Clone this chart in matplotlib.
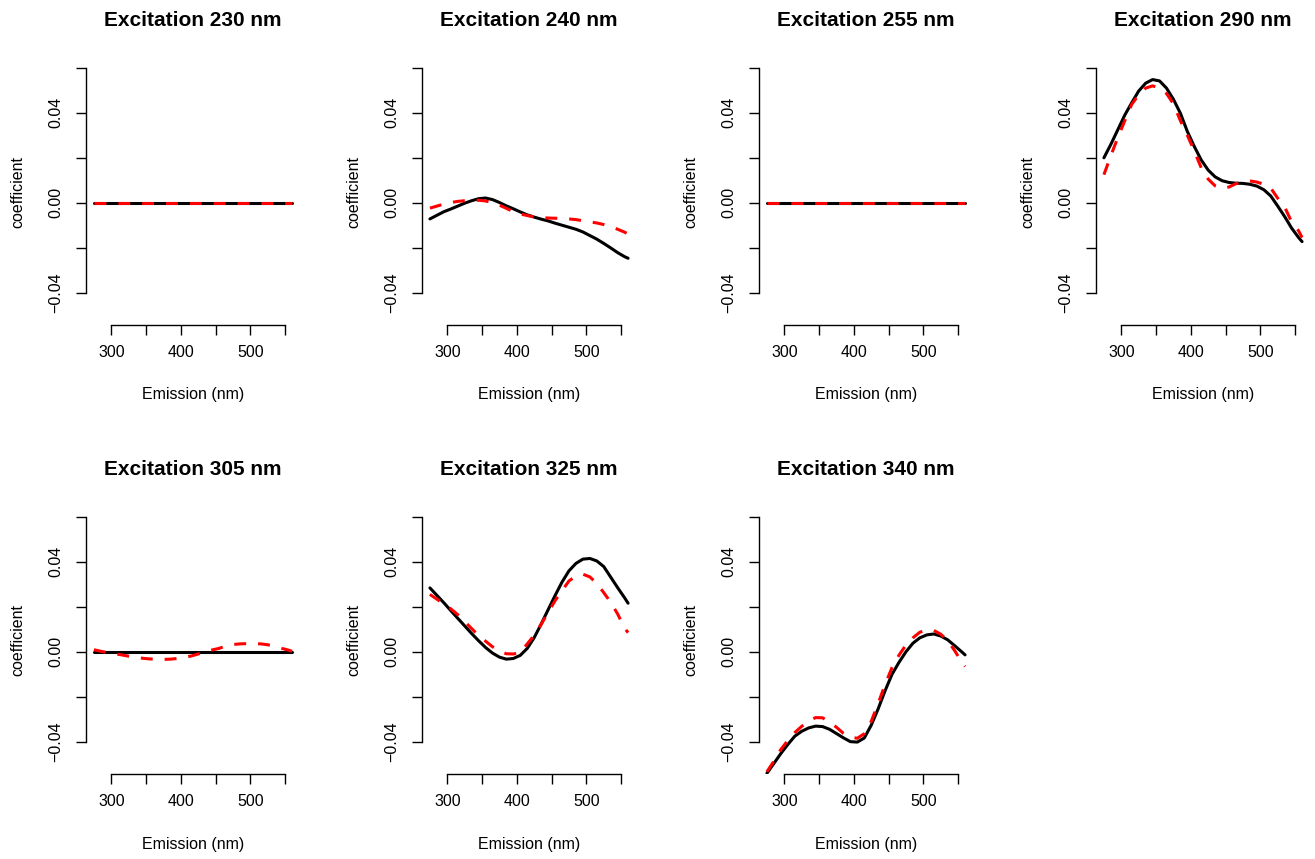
import matplotlib
matplotlib.use("Agg")
import matplotlib.pyplot as plt

plt.rcParams['font.family'] = ['Liberation Sans', 'DejaVu Sans']

emission = [275, 285, 295, 305, 315, 325, 335, 345, 355, 365,
            375, 385, 395, 405, 415, 425, 435, 445, 455, 465,
            475, 485, 495, 505, 515, 525, 535, 545, 555, 560]

excitations = [230, 240, 255, 290, 305, 325, 340]

# solid black series
black_230 = [0.0] * 30
black_240 = [-0.0072, -0.0056, -0.0040, -0.0028, -0.0015, -0.0002, 0.0009, 0.0018, 0.0021, 0.0014,
             0.0001, -0.0014, -0.0027, -0.0041, -0.0054, -0.0064, -0.0073, -0.0081, -0.0091, -0.0100,
             -0.0109, -0.0118, -0.0130, -0.0146, -0.0162, -0.0181, -0.0201, -0.0222, -0.0240, -0.0247]
black_255 = [0.0] * 30
black_290 = [0.0200, 0.0260, 0.0325, 0.0390, 0.0445, 0.0497, 0.0532, 0.0548, 0.0542, 0.0510,
             0.0460, 0.0398, 0.0317, 0.0250, 0.0190, 0.0145, 0.0115, 0.0098, 0.0090, 0.0087,
             0.0086, 0.0082, 0.0074, 0.0058, 0.0030, -0.0015, -0.0062, -0.0113, -0.0155, -0.0173]
black_305 = [0.0] * 30
black_325 = [0.0284, 0.0251, 0.0218, 0.0183, 0.0149, 0.0115, 0.0081, 0.0049, 0.0019, -0.0006,
             -0.0024, -0.0033, -0.0030, -0.0016, 0.0015, 0.0063, 0.0123, 0.0187, 0.0250, 0.0310,
             0.0360, 0.0393, 0.0412, 0.0415, 0.0404, 0.0379, 0.0332, 0.0285, 0.0240, 0.0216]
black_340 = [-0.0541, -0.0497, -0.0453, -0.0413, -0.0376, -0.0354, -0.0339, -0.0331, -0.0333, -0.0345,
             -0.0364, -0.0383, -0.0400, -0.0402, -0.0384, -0.0327, -0.0254, -0.0173, -0.0100, -0.0047,
             0.0000, 0.0038, 0.0062, 0.0075, 0.0079, 0.0070, 0.0053, 0.0027, 0.0000, -0.0014]

# dashed red series
red_230 = [0.0] * 30
red_240 = [-0.0024, -0.0015, -0.0006, 0.0001, 0.0006, 0.0009, 0.0011, 0.0011, 0.0008, 0.0000,
           -0.0011, -0.0025, -0.0040, -0.0050, -0.0057, -0.0063, -0.0066, -0.0068, -0.0069, -0.0070,
           -0.0072, -0.0075, -0.0080, -0.0085, -0.0090, -0.0097, -0.0106, -0.0118, -0.0131, -0.0139]
red_255 = [0.0] * 30
red_290 = [0.0125, 0.0210, 0.0290, 0.0365, 0.0438, 0.0480, 0.0510, 0.0520, 0.0510, 0.0486,
           0.0440, 0.0365, 0.0300, 0.0230, 0.0155, 0.0105, 0.0075, 0.0064, 0.0070, 0.0085,
           0.0095, 0.0097, 0.0092, 0.0082, 0.0065, 0.0020, -0.0020, -0.0085, -0.0125, -0.0155]
red_305 = [0.0009, 0.0002, -0.0004, -0.0009, -0.0014, -0.0020, -0.0025, -0.0029, -0.0032, -0.0033,
           -0.0034, -0.0033, -0.0030, -0.0025, -0.0019, -0.0010, 0.0000, 0.0008, 0.0015, 0.0026,
           0.0032, 0.0035, 0.0036, 0.0036, 0.0035, 0.0031, 0.0024, 0.0015, 0.0007, 0.0002]
red_325 = [0.0255, 0.0234, 0.0213, 0.0191, 0.0165, 0.0134, 0.0103, 0.0072, 0.0047, 0.0022,
           0.0002, -0.0009, -0.0010, -0.0004, 0.0035, 0.0073, 0.0122, 0.0176, 0.0227, 0.0272,
           0.0315, 0.0337, 0.0345, 0.0333, 0.0304, 0.0263, 0.0220, 0.0168, 0.0105, 0.0085]
red_340 = [-0.0534, -0.0487, -0.0435, -0.0395, -0.0360, -0.0332, -0.0308, -0.0293, -0.0294, -0.0312,
           -0.0336, -0.0363, -0.0380, -0.0385, -0.0365, -0.0310, -0.0230, -0.0145, -0.0070, -0.0015,
           0.0030, 0.0062, 0.0087, 0.0097, 0.0095, 0.0078, 0.0050, 0.0005, -0.0045, -0.0066]

blacks = [black_230, black_240, black_255, black_290, black_305, black_325, black_340]
reds = [red_230, red_240, red_255, red_290, red_305, red_325, red_340]

xticks = [300, 350, 400, 450, 500, 550]
xticklabels = ['300', '', '400', '', '500', '']
yticks = [-0.04, -0.02, 0.00, 0.02, 0.04, 0.06]
yticklabels = ['\u22120.04', '', '0.00', '', '0.04', '']

W, H = 1315, 859
fig = plt.figure(figsize=(W / 100, H / 100), dpi=100)

col_left = [86, 422, 759, 1096]
row_top = [58, 507]
aw, ah = 214, 267

for i, exc in enumerate(excitations):
    r, c = divmod(i, 4)
    left = col_left[c]
    top = row_top[r]
    ax = fig.add_axes([left / W, (H - top - ah) / H, aw / W, ah / H])
    ax.plot(emission, blacks[i], color='black', lw=2.2, solid_capstyle='round',
            solid_joinstyle='round')
    ax.plot(emission, reds[i], color='#ff0000', lw=2.2, dashes=(3.9, 3.9),
            dash_capstyle='butt', dash_joinstyle='round')
    ax.set_xlim(263.6, 571.4)
    ax.set_ylim(-0.0544, 0.0644)
    for s in ['top', 'right']:
        ax.spines[s].set_visible(False)
    ax.spines['left'].set_bounds(-0.04, 0.06)
    ax.spines['bottom'].set_bounds(300, 550)
    for s in ['left', 'bottom']:
        ax.spines[s].set_linewidth(1.0)
    ax.set_xticks(xticks)
    ax.set_xticklabels(xticklabels)
    ax.set_yticks(yticks)
    ax.set_yticklabels(yticklabels, rotation=90, va='center')
    ax.tick_params(axis='both', direction='out', length=7.2, width=1.0,
                   labelsize=11.5, colors='black')
    ax.tick_params(axis='x', pad=7)
    ax.tick_params(axis='y', pad=9)
    ax.set_title(f'Excitation {exc} nm', fontsize=15, fontweight='bold', pad=23)
    ax.set_xlabel('Emission (nm)', fontsize=11.5)
    ax.xaxis.set_label_coords(0.5, (325 - 395) / ah)
    ax.xaxis.label.set_va('center')
    ax.set_ylabel('coefficient', fontsize=11.5)
    ax.yaxis.set_label_coords((18 - 86) / aw, 0.5)
    ax.yaxis.label.set_va('center')
    ax.patch.set_visible(False)

fig.savefig('out.png', dpi=100, facecolor='white')
